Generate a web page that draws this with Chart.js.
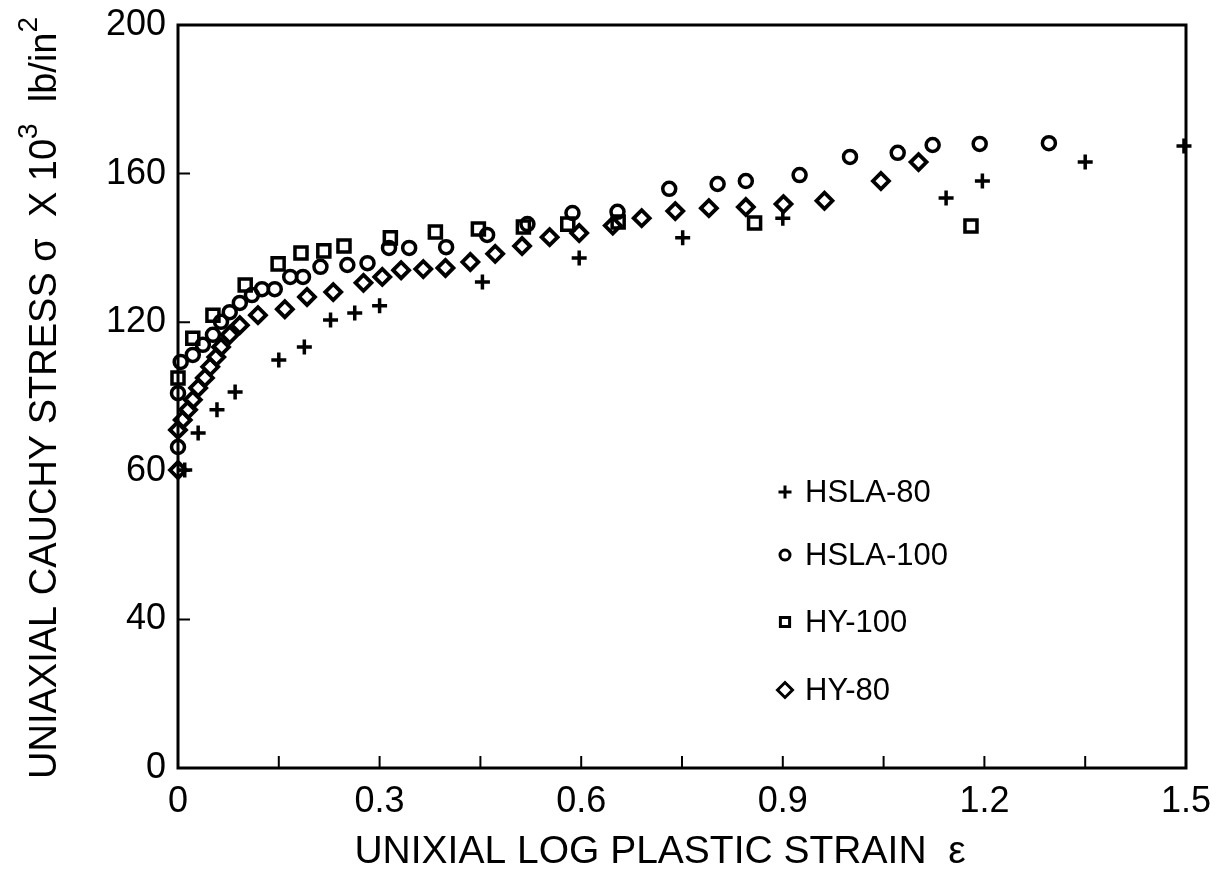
<!DOCTYPE html>
<html>
<head>
<meta charset="utf-8">
<title>Uniaxial Cauchy stress vs log plastic strain</title>
<script src="https://cdn.jsdelivr.net/npm/chart.js@4.4.1/dist/chart.umd.min.js"></script>
<style>
  html, body { margin: 0; padding: 0; background: #fff; }
  #wrap { width: 1220px; height: 873px; }
</style>
</head>
<body>
<div id="wrap"><canvas id="stressChart" width="1220" height="873"></canvas></div>
<script>
// values
const hsla80Strain = [0.01, 0.03, 0.058, 0.085, 0.15, 0.188, 0.227, 0.263, 0.30, 0.453, 0.597, 0.751, 0.90, 1.143, 1.197, 1.35, 1.497];
const hsla80Stress = [80.2, 90.2, 96.4, 101.2, 109.8, 113.3, 120.6, 122.5, 124.4, 130.8, 137.3, 142.7, 148.0, 153.4, 158.0, 163.1, 167.4];

const hsla100Strain = [0, 0, 0.004, 0.022, 0.037, 0.052, 0.064, 0.077, 0.092, 0.110, 0.125, 0.144, 0.167, 0.186, 0.212, 0.252, 0.282, 0.314, 0.344, 0.399, 0.460, 0.520, 0.587, 0.654, 0.731, 0.803, 0.845, 0.925, 1.000, 1.071, 1.123, 1.193, 1.296];
const hsla100Stress = [86.4, 100.9, 109.3, 111.2, 113.9, 116.6, 120.1, 122.7, 125.2, 127.3, 128.9, 128.9, 132.2, 132.2, 134.9, 135.4, 135.9, 140.0, 140.0, 140.2, 143.5, 146.4, 149.4, 149.7, 155.9, 157.2, 158.0, 159.6, 164.5, 165.6, 167.7, 168.0, 168.2];

const hy100Strain = [0, 0.022, 0.052, 0.100, 0.149, 0.183, 0.217, 0.247, 0.316, 0.383, 0.447, 0.514, 0.580, 0.655, 0.858, 1.180];
const hy100Stress = [105.0, 115.7, 121.9, 130.0, 135.7, 138.6, 139.2, 140.5, 142.7, 144.3, 145.1, 145.6, 146.4, 147.0, 146.7, 145.9];

const hy80Strain = [0, 0, 0.007, 0.015, 0.022, 0.030, 0.040, 0.048, 0.057, 0.064, 0.077, 0.092, 0.119, 0.159, 0.192, 0.231, 0.276, 0.304, 0.332, 0.365, 0.398, 0.435, 0.472, 0.512, 0.553, 0.597, 0.647, 0.690, 0.740, 0.790, 0.845, 0.901, 0.962, 1.046, 1.102];
const hy80Stress = [80.2, 91.0, 93.7, 96.4, 99.1, 102.3, 105.0, 108.0, 110.6, 113.3, 116.6, 119.2, 121.9, 123.5, 126.8, 128.1, 130.6, 132.2, 134.0, 134.3, 134.6, 136.2, 138.4, 140.5, 142.9, 144.0, 146.0, 148.0, 149.9, 150.7, 151.0, 151.8, 152.7, 158.0, 163.1];

const seriesNames = ['HSLA-80', 'HSLA-100', 'HY-100', 'HY-80'];
const xTickValues = [0, 0.3, 0.6, 0.9, 1.2, 1.5];
const yTickLabels = { 0: '0', 40: '40', 80: '60', 120: '120', 160: '160', 200: '200' }; // the figure prints "60" at the 80 mark

const FONT = "'Liberation Sans', Arial, Helvetica, sans-serif";
Chart.defaults.font.family = FONT;
Chart.defaults.color = '#000';

function toPoints(xs, ys) {
  return xs.map((x, i) => ({ x: x, y: ys[i] }));
}

const markers = [
  { style: 'cross', radius: 7.5, width: 3.5, legendRadius: 6.5 },
  { style: 'circle', radius: 6.5, width: 3.5, legendRadius: 5 },
  { style: 'rect', radius: 8.5, width: 3.5, legendRadius: 6.5 },
  { style: 'rectRot', radius: 8, width: 3.8, legendRadius: 7.5 }
];

const allSeries = [
  toPoints(hsla80Strain, hsla80Stress),
  toPoints(hsla100Strain, hsla100Stress),
  toPoints(hy100Strain, hy100Stress),
  toPoints(hy80Strain, hy80Stress)
];

// frame, inward ticks, axis titles and the in-plot key
const decorations = {
  id: 'decorations',
  afterDraw(chart) {
    const ctx = chart.ctx;
    const area = chart.chartArea;
    const xs = chart.scales.x;
    const ys = chart.scales.y;
    ctx.save();
    ctx.strokeStyle = '#000';
    ctx.lineWidth = 3;
    ctx.strokeRect(area.left, area.top, area.right - area.left, area.bottom - area.top);

    ctx.lineWidth = 2;
    ctx.beginPath();
    for (let i = 1; i < 10; i++) {
      const px = xs.getPixelForValue(i * 0.15);
      ctx.moveTo(px, area.bottom);
      ctx.lineTo(px, area.bottom - 12);
    }
    [40, 80, 120, 160].forEach(v => {
      const py = ys.getPixelForValue(v);
      ctx.moveTo(area.left, py);
      ctx.lineTo(area.left + 12, py);
    });
    ctx.stroke();

    // x title
    ctx.fillStyle = '#000';
    ctx.font = '39px ' + FONT;
    ctx.textAlign = 'center';
    ctx.textBaseline = 'alphabetic';
    ctx.fillText('UNIXIAL LOG PLASTIC STRAIN  \u03B5', 660, 863);

    // y title with real superscripts
    ctx.save();
    ctx.translate(56, 779);
    ctx.rotate(-Math.PI / 2);
    ctx.textAlign = 'left';
    const big = '38px ' + FONT;
    const small = '28px ' + FONT;
    const parts = [
      ['UNIAXIAL CAUCHY STRESS \u03C3  X 10', big, 0],
      ['3', small, -19],
      ['  lb/in', big, 0],
      ['2', small, -19]
    ];
    let pos = 0;
    parts.forEach(p => {
      ctx.font = p[1];
      ctx.fillText(p[0], pos, p[2]);
      pos += ctx.measureText(p[0]).width;
    });
    ctx.restore();

    // key
    const keyX = area.left + 607;
    const rows = [492, 555, 622, 690];
    ctx.font = '31px ' + FONT;
    ctx.textAlign = 'left';
    ctx.textBaseline = 'middle';
    seriesNames.forEach((name, i) => {
      const m = markers[i];
      ctx.strokeStyle = '#000';
      ctx.fillStyle = 'rgba(0,0,0,0)';
      ctx.lineWidth = 3;
      Chart.helpers.drawPoint(ctx, { pointStyle: m.style, radius: m.legendRadius, rotation: 0, borderWidth: 3 }, keyX, rows[i]);
      ctx.fillStyle = '#000';
      ctx.fillText(name, keyX + 20, rows[i] + 1);
    });
    ctx.restore();
  }
};

new Chart(document.getElementById('stressChart'), {
  type: 'scatter',
  data: {
    datasets: allSeries.map((pts, i) => ({
      label: seriesNames[i],
      data: pts,
      pointStyle: markers[i].style,
      pointRadius: markers[i].radius,
      pointHoverRadius: markers[i].radius,
      pointBorderWidth: markers[i].width,
      pointBorderColor: '#000',
      pointBackgroundColor: 'rgba(0,0,0,0)',
      showLine: false,
      clip: false
    }))
  },
  options: {
    responsive: false,
    animation: false,
    layout: { padding: { top: 25, right: 34, left: 0, bottom: 0 } },
    plugins: {
      legend: { display: false },
      tooltip: { enabled: false }
    },
    scales: {
      x: {
        type: 'linear',
        min: 0,
        max: 1.5,
        grid: { display: false, drawTicks: false },
        border: { display: false },
        afterBuildTicks(scale) {
          scale.ticks = xTickValues.map(v => ({ value: v }));
        },
        afterFit(scale) {
          scale.height = 105;
          scale.paddingLeft = 0;
          scale.paddingRight = 0;
        },
        ticks: {
          padding: 12,
          font: { size: 36 },
          color: '#000',
          callback: v => String(Math.round(v * 10) / 10)
        }
      },
      y: {
        type: 'linear',
        min: 0,
        max: 200,
        grid: { display: false, drawTicks: false },
        border: { display: false },
        afterBuildTicks(scale) {
          scale.ticks = Object.keys(yTickLabels).map(v => ({ value: Number(v) }));
        },
        afterFit(scale) {
          scale.width = 178;
          scale.paddingTop = 0;
          scale.paddingBottom = 0;
        },
        ticks: {
          padding: 12,
          font: { size: 36 },
          color: '#000',
          callback: v => yTickLabels[v]
        }
      }
    }
  },
  plugins: [decorations]
});
</script>
</body>
</html>
